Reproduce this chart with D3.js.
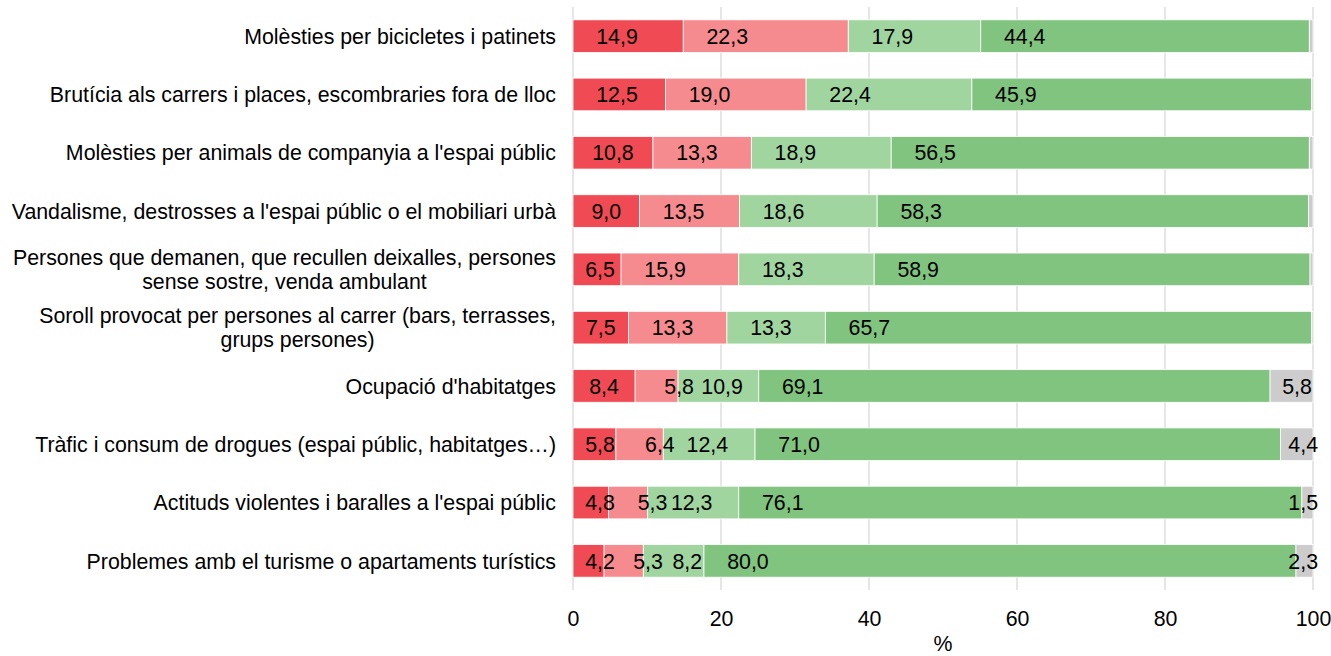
<!DOCTYPE html>
<html>
<head>
<meta charset="utf-8">
<script src="https://cdn.jsdelivr.net/npm/d3@7"></script>
<style>
  html, body { margin: 0; padding: 0; background: #fff; }
  svg { display: block; font-family: "Liberation Sans", Arial, sans-serif; }
</style>
</head>
<body>
<svg id="chart" width="1331" height="656"></svg>
<script>
// Problemes percebuts al barri (%)
const categories = [
  "Molèsties per bicicletes i patinets",
  "Brutícia als carrers i places, escombraries fora de lloc",
  "Molèsties per animals de companyia a l'espai públic",
  "Vandalisme, destrosses a l'espai públic o el mobiliari urbà",
  "Persones que demanen, que recullen deixalles, persones\nsense sostre, venda ambulant",
  "Soroll provocat per persones al carrer (bars, terrasses,\ngrups persones)",
  "Ocupació d'habitatges",
  "Tràfic i consum de drogues (espai públic, habitatges…)",
  "Actituds violentes i baralles a l'espai públic",
  "Problemes amb el turisme o apartaments turístics"
];

const molt     = [14.9, 12.5, 10.8,  9.0,  6.5,  7.5,  8.4,  5.8,  4.8,  4.2];
const bastant  = [22.3, 19.0, 13.3, 13.5, 15.9, 13.3,  5.8,  6.4,  5.3,  5.3];
const poc      = [17.9, 22.4, 18.9, 18.6, 18.3, 13.3, 10.9, 12.4, 12.3,  8.2];
const gens     = [44.4, 45.9, 56.5, 58.3, 58.9, 65.7, 69.1, 71.0, 76.1, 80.0];
const nsnc     = [ 0.5,  0.2,  0.5,  0.6,  0.4,  0.2,  5.8,  4.4,  1.5,  2.3];

const seriesKeys = ["molt", "bastant", "poc", "gens", "nsnc"];
const seriesColors = ["#f04b54", "#f58b8e", "#a0d5a0", "#80c47f", "#cccccc"];
const xTicks = [0, 20, 40, 60, 80, 100];
const xTitle = "%";

const rows = categories.map((c, i) => ({
  category: c,
  molt: molt[i], bastant: bastant[i], poc: poc[i], gens: gens[i], nsnc: nsnc[i]
}));

const svg = d3.select("#chart");
const margin = { left: 573, right: 18, top: 7, bottom: 66 };
const width = 1331, height = 656;

const x = d3.scaleLinear().domain([0, 100]).range([margin.left, width - margin.right]);
const y = d3.scaleBand().domain(categories).range([margin.top, height - margin.bottom])
  .paddingInner(0.44).paddingOuter(0.22);

// vertical gridlines
svg.append("g").selectAll("line").data(xTicks).join("line")
  .attr("x1", d => x(d)).attr("x2", d => x(d))
  .attr("y1", margin.top).attr("y2", height - margin.bottom)
  .attr("stroke", "#d9d9d9").attr("stroke-width", 1.3);

const stack = d3.stack().keys(seriesKeys);
const stacked = stack(rows);

const fmt = v => d3.format(".1f")(v).replace(".", ",");

const layers = svg.append("g").selectAll("g").data(stacked).join("g")
  .attr("fill", (d, i) => seriesColors[i]);

layers.selectAll("rect").data(d => d).join("rect")
  .attr("x", d => x(d[0]))
  .attr("width", d => x(d[1]) - x(d[0]))
  .attr("y", d => y(d.data.category))
  .attr("height", y.bandwidth())
  .attr("stroke", "#ffffff").attr("stroke-width", 0.8);

// value labels
const fontSize = 21.33;
const labelG = svg.append("g").attr("font-size", fontSize).attr("fill", "#000");
const rightLimit = x(100) + 5;
stacked.forEach((layer, si) => {
  layer.forEach(d => {
    const v = d[1] - d[0];
    if (v < 1) return;
    const x0 = x(d[0]);
    const w = x(d[1]) - x0;
    const t = labelG.append("text")
      .attr("y", y(d.data.category) + y.bandwidth() / 2)
      .attr("dy", "0.36em")
      .attr("text-anchor", "middle")
      .text(fmt(v));
    const tw = t.node().getComputedTextLength();
    let cx;
    if (si === 0 || si === 4) cx = x0 + Math.min(44, Math.max(27, w / 2));
    else cx = x0 + 44;
    if (cx + tw / 2 > rightLimit) cx = rightLimit - tw / 2;
    t.attr("x", cx);
  });
});

// category labels, multi-line centred as a block aligned to the right
const catG = svg.append("g").attr("font-size", fontSize).attr("fill", "#000");
const labelRight = 556;
const lineH = 24;
categories.forEach(c => {
  const lines = c.split("\n");
  const cy = y(c) + y.bandwidth() / 2;
  const g = catG.append("g");
  const texts = lines.map((ln, k) => g.append("text")
    .attr("y", cy + (k - (lines.length - 1) / 2) * lineH)
    .attr("dy", "0.36em")
    .text(ln));
  const maxW = d3.max(texts, t => t.node().getComputedTextLength());
  texts.forEach(t => t.attr("x", labelRight - maxW / 2).attr("text-anchor", "middle"));
});

// x axis
const axis = d3.axisBottom(x).tickValues(xTicks).tickSize(0).tickPadding(0).tickFormat(d3.format("d"));
const axG = svg.append("g").attr("transform", `translate(0, ${height - margin.bottom})`).call(axis);
axG.select(".domain").remove();
axG.selectAll("text").attr("font-size", fontSize).attr("font-family", "Liberation Sans, Arial, sans-serif")
  .attr("fill", "#000").attr("dy", null).attr("y", 36);

svg.append("text").attr("x", x(50)).attr("y", 651)
  .attr("text-anchor", "middle").attr("font-size", fontSize).attr("fill", "#000")
  .text(xTitle);
</script>
</body>
</html>
